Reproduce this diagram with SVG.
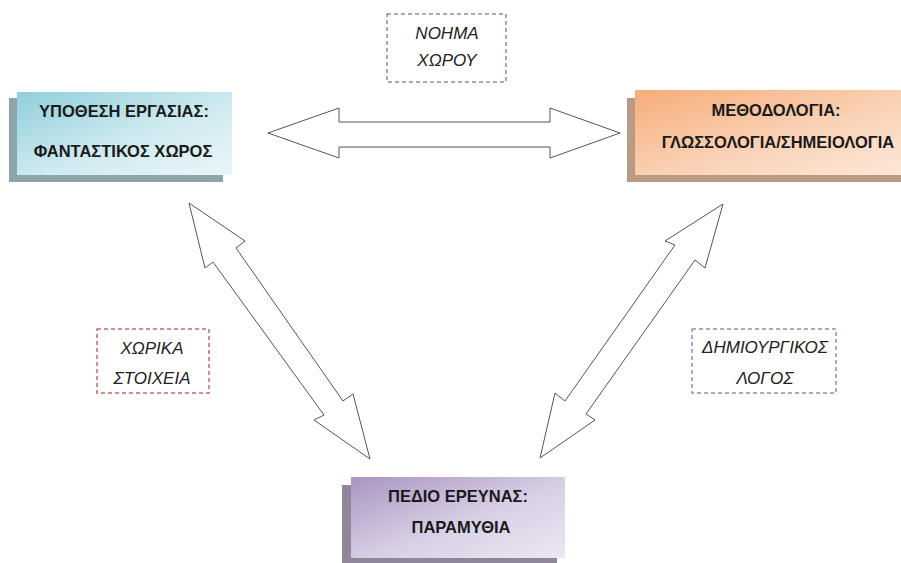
<svg xmlns="http://www.w3.org/2000/svg" width="901" height="563" viewBox="0 0 901 563">
<defs>
<linearGradient id="gBlue" x1="0" y1="0" x2="1" y2="1">
<stop offset="0" stop-color="#8fcfdc"/>
<stop offset="0.55" stop-color="#cfeaf0"/>
<stop offset="1" stop-color="#eaf6f9"/>
</linearGradient>
<linearGradient id="gOrange" x1="0" y1="0" x2="1" y2="1">
<stop offset="0" stop-color="#f6ad79"/>
<stop offset="0.55" stop-color="#fad2b6"/>
<stop offset="1" stop-color="#fde8da"/>
</linearGradient>
<linearGradient id="gPurple" x1="0" y1="0" x2="1" y2="1">
<stop offset="0" stop-color="#a895c2"/>
<stop offset="0.55" stop-color="#d9d0e5"/>
<stop offset="1" stop-color="#ece7f2"/>
</linearGradient>
</defs>
<style>
.bt{font-family:"Liberation Sans","Noto Sans",sans-serif;font-weight:bold;font-size:16.5px;fill:#1a1a1a;text-anchor:middle}
.it{font-family:"Liberation Sans","Noto Sans",sans-serif;font-style:italic;font-size:17px;fill:#222;text-anchor:middle}
.arr{fill:#fff;stroke:#555;stroke-width:1}
.lbl{fill:#fff;stroke-width:1.5;stroke-dasharray:4 3}
</style>
<rect width="901" height="563" fill="#fff"/>
<g id="connectors">
<polygon class="arr" points="268,133 339,108 339,122 550,122 550,108 620,133 550,158 550,147 339,147 339,158"/>
<polygon class="arr" points="189,203 245,241 236,248 343,401 353,394 370,459 314,420 324,415 213,262 205,268"/>
<polygon class="arr" points="723,204 705,268 695,260 586,414 595,420 540,458 555,393 565,401 675,245 665,241"/>
</g>
<g id="node-hypothesis">
<rect x="9" y="98" width="214" height="84" fill="#8ea5ae"/>
<rect x="17" y="92" width="215" height="83" fill="url(#gBlue)"/>
<text class="bt" x="124" y="117">ΥΠΟΘΕΣΗ ΕΡΓΑΣΙΑΣ:</text>
<text class="bt" x="123" y="157">ΦΑΝΤΑΣΤΙΚΟΣ ΧΩΡΟΣ</text>
</g>
<g id="node-methodology">
<rect x="627" y="98" width="280" height="84" fill="#b99b85"/>
<rect x="635" y="90" width="275" height="85" fill="url(#gOrange)"/>
<text class="bt" x="776" y="116">ΜΕΘΟΔΟΛΟΓΙΑ:</text>
<text class="bt" x="778" y="148">ΓΛΩΣΣΟΛΟΓΙΑ/ΣΗΜΕΙΟΛΟΓΙΑ</text>
</g>
<g id="node-field">
<rect x="342" y="485" width="215" height="80" fill="#8f8799"/>
<rect x="351" y="477" width="214" height="81" fill="url(#gPurple)"/>
<text class="bt" x="458" y="502">ΠΕΔΙΟ ΕΡΕΥΝΑΣ:</text>
<text class="bt" x="461" y="533">ΠΑΡΑΜΥΘΙΑ</text>
</g>
<g id="label-space-meaning">
<rect class="lbl" x="387" y="14" width="119" height="68" stroke="#9484b4"/>
<text class="it" x="447" y="39">ΝΟΗΜΑ</text>
<text class="it" x="447" y="66">ΧΩΡΟΥ</text>
</g>
<g id="label-spatial-elements">
<rect class="lbl" x="97" y="329" width="112" height="64" stroke="#c66a6a"/>
<text class="it" x="152" y="354">ΧΩΡΙΚΑ</text>
<text class="it" x="152" y="384">ΣΤΟΙΧΕΙΑ</text>
</g>
<g id="label-creative-speech">
<rect class="lbl" x="692" y="329" width="144" height="64" stroke="#7e98c0"/>
<text class="it" x="765" y="353">ΔΗΜΙΟΥΡΓΙΚΟΣ</text>
<text class="it" x="765" y="384">ΛΟΓΟΣ</text>
</g>
</svg>
